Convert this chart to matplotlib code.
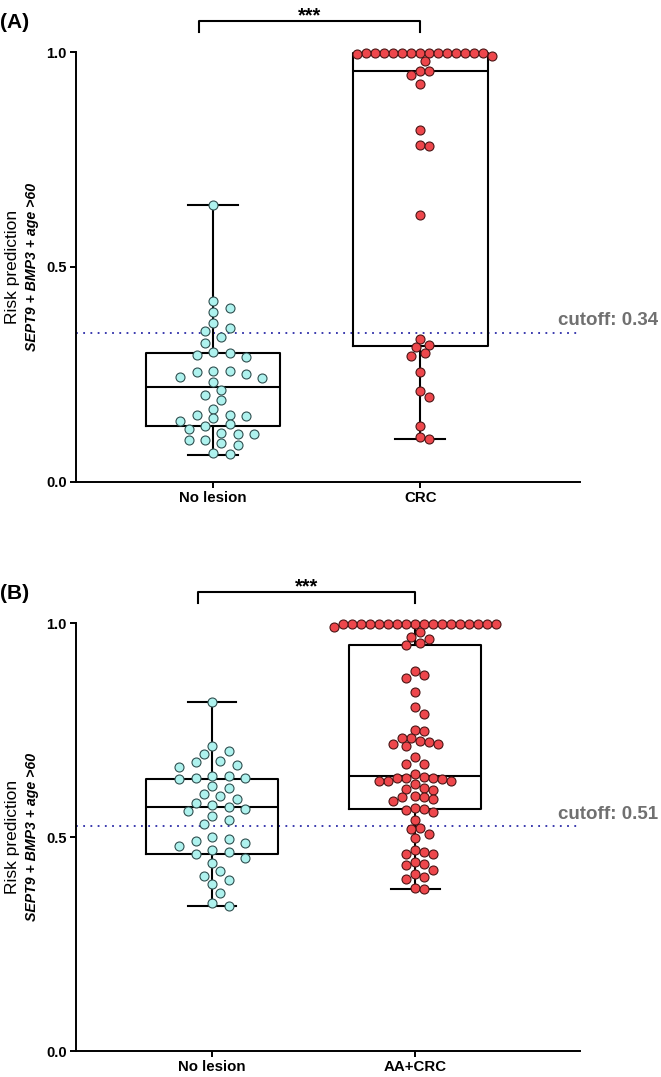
import numpy as np
import matplotlib.pyplot as plt

plt.rcParams['font.family'] = ['Liberation Sans', 'DejaVu Sans']

# ---- data ----
labels_a = ['No lesion', 'CRC']
no_lesion_a = [0.644, 0.421, 0.405, 0.395, 0.370, 0.359, 0.350, 0.336, 0.323, 0.303,
               0.299, 0.296, 0.291, 0.259, 0.257, 0.255, 0.250, 0.243, 0.242, 0.232,
               0.214, 0.202, 0.191, 0.169, 0.156, 0.155, 0.153, 0.148, 0.142, 0.135,
               0.129, 0.123, 0.115, 0.112, 0.112, 0.098, 0.098, 0.090, 0.087, 0.068,
               0.064]
crc_a = [0.998] * 14 + [0.995, 0.991, 0.979, 0.957, 0.957, 0.947, 0.926, 0.819,
                        0.784, 0.781, 0.621, 0.333, 0.318, 0.313, 0.299, 0.293,
                        0.256, 0.212, 0.198, 0.129, 0.104, 0.099]
# box stats: whisker low, q1, median, q3, whisker high
box_lo_a = [0.063, 0.099]
box_q1_a = [0.130, 0.316]
box_med_a = [0.221, 0.957]
box_q3_a = [0.300, 0.998]
box_hi_a = [0.644, 0.998]
cutoff_a = 0.347
cutoff_text_a = 'cutoff: 0.34'

labels_b = ['No lesion', 'AA+CRC']
no_lesion_b = [0.816, 0.713, 0.701, 0.693, 0.678, 0.675, 0.668, 0.664, 0.643, 0.643,
               0.639, 0.639, 0.635, 0.620, 0.615, 0.600, 0.595, 0.590, 0.580, 0.575,
               0.570, 0.565, 0.560, 0.550, 0.540, 0.530, 0.500, 0.495, 0.490, 0.485,
               0.480, 0.470, 0.465, 0.460, 0.450, 0.440, 0.420, 0.410, 0.400, 0.390,
               0.370, 0.345, 0.340]
aa_crc_b = [0.998] * 18 + [0.991, 0.979, 0.968, 0.962, 0.954, 0.949, 0.888, 0.879,
                           0.871, 0.838, 0.803, 0.787, 0.750, 0.747, 0.732, 0.732,
                           0.724, 0.721, 0.718, 0.717, 0.713, 0.686, 0.671, 0.671,
                           0.647, 0.641, 0.639, 0.638, 0.638, 0.636, 0.632, 0.631,
                           0.631, 0.624, 0.615, 0.613, 0.609, 0.596, 0.594, 0.593,
                           0.588, 0.584, 0.569, 0.565, 0.563, 0.558, 0.540, 0.521,
                           0.519, 0.507, 0.498, 0.469, 0.464, 0.461, 0.460, 0.442,
                           0.436, 0.434, 0.423, 0.414, 0.406, 0.403, 0.381, 0.379]
box_lo_b = [0.340, 0.379]
box_q1_b = [0.460, 0.565]
box_med_b = [0.570, 0.643]
box_q3_b = [0.635, 0.948]
box_hi_b = [0.816, 0.998]
cutoff_b = 0.525
cutoff_text_b = 'cutoff: 0.51'

fill_colors = ['#aef2ee', '#ee474c']
edge_colors = ['#2f4f4f', '#4a1414']
DOT_PX = 9.0
# horizontal spacing between neighbouring dots (px), per group
SEP_PX = [16.4, 9.0]


def swarm_offsets(ax, values, diam, sep):
    # beeswarm in pixel space (elliptic spacing), returns x offsets in data units
    bbox = ax.get_window_extent()
    x0, x1 = ax.get_xlim()
    y0, y1 = ax.get_ylim()
    sx = bbox.width / (x1 - x0)
    sy = bbox.height / (y1 - y0)
    vals = np.asarray(values)
    offs = np.zeros(len(vals))
    placed = []
    step = sep * 0.5
    for i in np.argsort(-vals):
        y = vals[i] * sy
        k = 0
        found = None
        while found is None:
            cands = [0.0] if k == 0 else [k * step, -k * step]
            for c in cands:
                if all(((c - px) / sep) ** 2 + ((y - py) / diam) ** 2 >= 0.97
                       for px, py in placed):
                    found = c
                    break
            k += 1
        placed.append((found, y))
        offs[i] = found / sx
    return offs


def draw_panel(ax, labels, groups, lo, q1, med, q3, hi, cutoff, cutoff_text, xlim):
    ax.set_xlim(*xlim)
    ax.set_ylim(0, 1.0)
    stats = []
    for i in range(len(labels)):
        stats.append(dict(whislo=lo[i], q1=q1[i], med=med[i], q3=q3[i], whishi=hi[i]))
    lp = dict(color='black', linewidth=1.5)
    ax.bxp(stats, positions=[0, 1], widths=0.65, capwidths=0.24, showfliers=False,
           boxprops=lp, whiskerprops=lp, capprops=lp, medianprops=lp, zorder=2)

    for i, vals in enumerate(groups):
        offs = swarm_offsets(ax, vals, DOT_PX, SEP_PX[i])
        ax.scatter(i + offs, vals, s=42, color=fill_colors[i], edgecolor=edge_colors[i],
                   linewidth=0.8, zorder=3, clip_on=False)

    ax.axhline(cutoff, color='#2b2ba8', linestyle=(0, (1, 3)), linewidth=1.3, zorder=1)
    ax.text(1.155, cutoff + 0.008, cutoff_text, transform=ax.get_yaxis_transform(),
            ha='right', va='bottom', fontsize=13.5, fontweight='bold', color='#707070',
            clip_on=False)

    # significance bracket
    ax.plot([-0.068, -0.068, 1, 1], [1.047, 1.072, 1.072, 1.047], color='black',
            linewidth=1.5, clip_on=False)
    ax.text(0.466, 1.063, '***', ha='center', va='bottom', fontsize=14.5,
            fontweight='bold')

    ax.spines['top'].set_visible(False)
    ax.spines['right'].set_visible(False)
    ax.spines['left'].set_bounds(0, 1)
    ax.spines['left'].set_linewidth(1.4)
    ax.spines['bottom'].set_linewidth(1.4)
    ax.set_yticks([0, 0.5, 1.0])
    ax.set_yticklabels(['0.0', '0.5', '1.0'], fontweight='bold', fontsize=10.5)
    ax.set_xticks([0, 1])
    ax.set_xticklabels(labels, fontweight='bold', fontsize=10.8)
    ax.tick_params(axis='both', width=1.4, length=4.5, pad=2)


fig = plt.figure(figsize=(6.61, 10.77), dpi=100)
ax_a = fig.add_axes([0.115, 0.5525, 0.763, 0.3992])
ax_b = fig.add_axes([0.115, 0.0241, 0.763, 0.3974])

draw_panel(ax_a, labels_a, [no_lesion_a, crc_a], box_lo_a, box_q1_a, box_med_a,
           box_q3_a, box_hi_a, cutoff_a, cutoff_text_a, (-0.662, 1.773))
draw_panel(ax_b, labels_b, [no_lesion_b, aa_crc_b], box_lo_b, box_q1_b, box_med_b,
           box_q3_b, box_hi_b, cutoff_b, cutoff_text_b, (-0.67, 1.813))

for ax, tag in [(ax_a, '(A)'), (ax_b, '(B)')]:
    pos = ax.get_position()
    ymid = (pos.y0 + pos.y1) / 2
    fig.text(0.019, ymid, 'Risk prediction', rotation=90, ha='center', va='center',
             fontsize=12.5)
    fig.text(0.049, ymid, 'SEPT9 + BMP3 + age >60', rotation=90, ha='center',
             va='center', fontsize=10.2, fontweight='bold', fontstyle='italic')
    fig.text(0.0, pos.y1 + 0.027, tag, ha='left', va='center', fontsize=15,
             fontweight='bold')

fig.savefig('out.png', dpi=100)
